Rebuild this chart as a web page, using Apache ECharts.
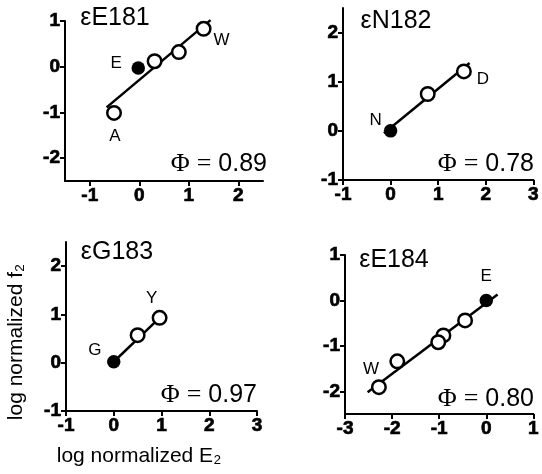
<!DOCTYPE html>
<html>
<head>
<meta charset="utf-8">
<script src="https://cdn.jsdelivr.net/npm/echarts@6/dist/echarts.min.js"></script>
<style>html,body{margin:0;padding:0;background:#fff}#c{width:542px;height:474px}</style>
</head>
<body>
<div id="c"></div>
<script>
// ---- data ----
const panelTitles = ['εE181', 'εN182', 'εG183', 'εE184'];
const phiValues = ['0.89', '0.78', '0.97', '0.80'];

// panel 1: εE181
const openX1 = [-0.51, 0.31, 0.80, 1.30];
const openY1 = [-1.01, 0.12, 0.32, 0.83];
const openNames1 = ['A', '', '', 'W'];
const filledX1 = [-0.02];
const filledY1 = [-0.03];
const filledNames1 = ['E'];
const fitX1 = [-0.66, 1.44];
const fitY1 = [-0.89, 1.02];

// panel 2: εN182
const openX2 = [0.78, 1.54];
const openY2 = [0.75, 1.21];
const openNames2 = ['', 'D'];
const filledX2 = [0.0];
const filledY2 = [0.0];
const filledNames2 = ['N'];
const fitX2 = [-0.14, 1.66];
const fitY2 = [-0.05, 1.38];

// panel 3: εG183
const openX3 = [0.50, 0.96];
const openY3 = [0.57, 0.93];
const openNames3 = ['', 'Y'];
const filledX3 = [0.0];
const filledY3 = [0.02];
const filledNames3 = ['G'];
const fitX3 = [0.0, 0.96];
const fitY3 = [0.02, 0.93];

// panel 4: εE184
const openX4 = [-0.45, -0.91, -1.02, -1.89, -2.28];
const openY4 = [-0.44, -0.77, -0.92, -1.34, -1.91];
const openNames4 = ['', '', '', '', 'W'];
const filledX4 = [0.0];
const filledY4 = [0.0];
const filledNames4 = ['E'];
const fitX4 = [-2.52, 0.24];
const fitY4 = [-2.02, 0.13];

// axis ranges & tick labels
const xRange = [[-1.5, 2.5], [-1, 3], [-1, 3], [-3, 1]];
const yRange = [[-2.5, 1], [-1, 2.5], [-1, 2.5], [-2.5, 1]];
const xTicks = [[-1, 0, 1, 2], [-1, 0, 1, 2, 3], [-1, 0, 1, 2, 3], [-3, -2, -1, 0, 1]];
const yTicks = [[-2, -1, 0, 1], [-1, 0, 1, 2], [-1, 0, 1, 2], [-2, -1, 0, 1]];

const xAxisTitle = 'log normalized E₂';
const yAxisTitle = 'log normalized f₂';

// ---- layout / style ----
const grids = [
  {left: 65, top: 21, width: 198, height: 160},
  {left: 343, top: 8, width: 192, height: 172},
  {left: 66, top: 242, width: 191, height: 169},
  {left: 345, top: 255, width: 190, height: 159}
];
const titlePos = [[115, 18], [396, 21], [117, 252], [394, 260]];
const phiPos = [[267, 164], [534, 164], [257, 395], [534, 399]];

// label offsets (center of label relative to point center)
const labelOffsets = [
  {A: [1, 23], W: [18, 12], E: [-22, -5]},
  {D: [19, 8], N: [-15, -11]},
  {Y: [-8, -19], G: [-19, -11]},
  {W: [-8, -18], E: [0, -24]}
];

const FONT = 'Liberation Sans, Arial, sans-serif';

const panels = [
  [openX1, openY1, openNames1, filledX1, filledY1, filledNames1, fitX1, fitY1],
  [openX2, openY2, openNames2, filledX2, filledY2, filledNames2, fitX2, fitY2],
  [openX3, openY3, openNames3, filledX3, filledY3, filledNames3, fitX3, fitY3],
  [openX4, openY4, openNames4, filledX4, filledY4, filledNames4, fitX4, fitY4]
];

function axisCommon(ticks) {
  return {
    interval: 0.5,
    axisLine: {show: true, onZero: false, lineStyle: {color: '#000', width: 2}},
    axisTick: {show: true, customValues: ticks, length: 5, lineStyle: {color: '#000', width: 2}},
    axisLabel: {
      show: true, color: '#000', fontWeight: 'bold', fontSize: 19, fontFamily: FONT, margin: 5,
      textBorderColor: '#000', textBorderWidth: 0.7,
      showMinLabel: true, showMaxLabel: true, hideOverlap: false,
      formatter: v => (ticks.indexOf(Math.round(v * 100) / 100) >= 0 ? String(Math.round(v)) : '')
    },
    splitLine: {show: false}
  };
}

function pointData(xs, ys, names, pi) {
  return xs.map((x, i) => {
    const d = {value: [x, ys[i]], name: names[i]};
    const off = labelOffsets[pi][names[i]];
    if (names[i] && off) {
      d.label = {show: true, position: 'inside', offset: off, formatter: '{b}',
        color: '#000', fontSize: 17, fontFamily: FONT, align: 'center', verticalAlign: 'middle'};
    }
    return d;
  });
}

const xAxes = [], yAxes = [], series = [], graphics = [];
panels.forEach((p, i) => {
  const [ox, oy, on, fx, fy, fn, lx, ly] = p;
  xAxes.push(Object.assign({type: 'value', gridIndex: i, min: xRange[i][0], max: xRange[i][1]}, axisCommon(xTicks[i])));
  yAxes.push(Object.assign({type: 'value', gridIndex: i, min: yRange[i][0], max: yRange[i][1]}, axisCommon(yTicks[i])));
  series.push({
    type: 'line', xAxisIndex: i, yAxisIndex: i, data: lx.map((x, k) => [x, ly[k]]),
    showSymbol: false, symbol: 'none', clip: false, lineStyle: {color: '#000', width: 2.5}, z: 2, silent: true
  });
  series.push({
    type: 'scatter', xAxisIndex: i, yAxisIndex: i, data: pointData(ox, oy, on, i),
    symbol: 'circle', symbolSize: 13.5, clip: false,
    itemStyle: {color: '#fff', borderColor: '#000', borderWidth: 2.5, opacity: 1}, z: 3
  });
  series.push({
    type: 'scatter', xAxisIndex: i, yAxisIndex: i, data: pointData(fx, fy, fn, i),
    symbol: 'circle', symbolSize: 13.5, clip: false,
    itemStyle: {color: '#000', borderColor: '#000', borderWidth: 0, opacity: 1}, z: 3
  });
  graphics.push({
    type: 'text', x: titlePos[i][0], y: titlePos[i][1],
    style: {text: panelTitles[i], fontSize: 25, fontFamily: FONT, fill: '#000', align: 'center', verticalAlign: 'middle'}
  });
  graphics.push({
    type: 'text', x: phiPos[i][0], y: phiPos[i][1],
    style: {
      text: '{p|Φ} {e|=} {n|' + phiValues[i] + '}',
      align: 'right', verticalAlign: 'middle', fill: '#000',
      fontSize: 25, fontFamily: FONT,
      rich: {
        p: {fontSize: 26, fontFamily: 'Liberation Serif, serif', fill: '#000'},
        e: {fontSize: 26, fontFamily: 'Liberation Serif, serif', fill: '#000'},
        n: {fontSize: 25, fontFamily: FONT, fill: '#000'}
      }
    }
  });
});

graphics.push({
  type: 'text', x: 139, y: 456,
  style: {text: xAxisTitle, fontSize: 21, fontFamily: FONT, fill: '#000', align: 'center', verticalAlign: 'middle'}
});
graphics.push({
  type: 'text', x: 16, y: 342, rotation: Math.PI / 2,
  style: {text: yAxisTitle, fontSize: 21, fontFamily: FONT, fill: '#000', align: 'center', verticalAlign: 'middle'}
});

const chart = echarts.init(document.getElementById('c'), null, {renderer: 'canvas'});
chart.setOption({
  animation: false,
  backgroundColor: '#fff',
  grid: grids,
  xAxis: xAxes,
  yAxis: yAxes,
  series: series,
  graphic: graphics
});
</script>
</body>
</html>
